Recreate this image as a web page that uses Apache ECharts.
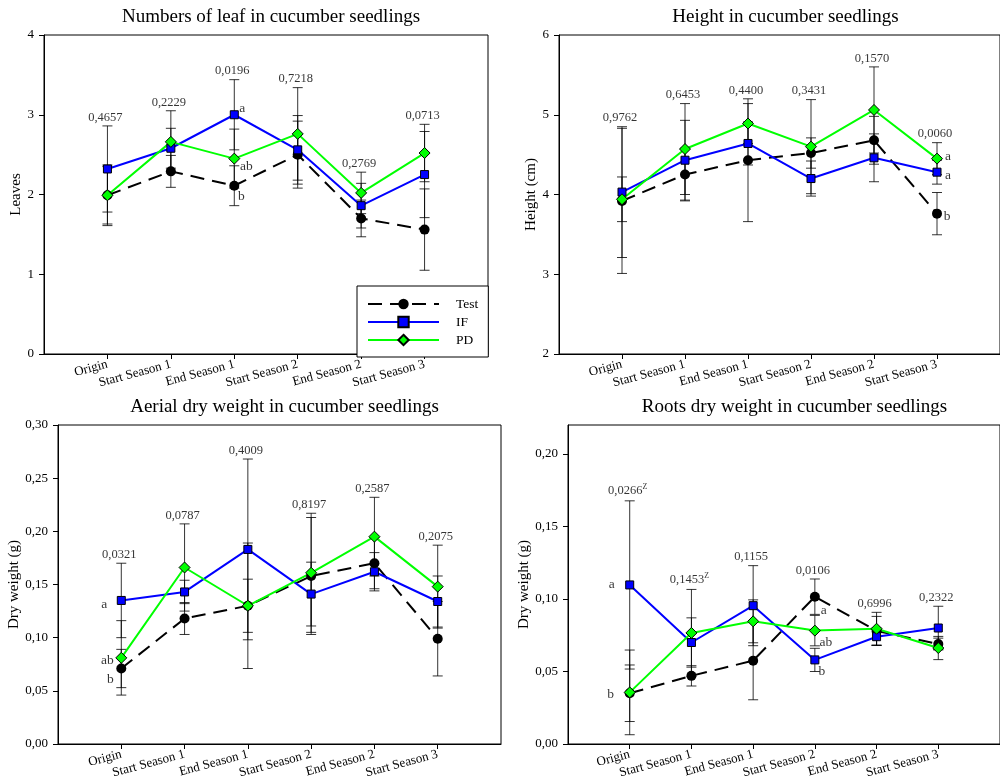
<!DOCTYPE html>
<html>
<head>
<meta charset="utf-8">
<title>Cucumber seedlings</title>
<script src="https://cdn.jsdelivr.net/npm/echarts@6/dist/echarts.min.js"></script>
<style>
  html, body { margin: 0; padding: 0; background: #fff; }
  #chart { width: 1000px; height: 782px; }
</style>
</head>
<body>
<div id="chart"></div>
<script>
// ---- data ----
const categories = ['Origin', 'Start Season 1', 'End Season 1', 'Start Season 2', 'End Season 2', 'Start Season 3'];
const seriesNames = ['Test', 'IF', 'PD'];

// Numbers of leaf (mean, error)
const leafTest = [1.99, 2.29, 2.11, 2.50, 1.70, 1.56];
const leafTestErr = [0.36, 0.20, 0.25, 0.42, 0.23, 0.51];
const leafIF = [2.32, 2.58, 3.00, 2.56, 1.86, 2.25];
const leafIFErr = [0.54, 0.25, 0.44, 0.43, 0.28, 0.54];
const leafPD = [1.99, 2.66, 2.45, 2.76, 2.02, 2.52];
const leafPDErr = [0.38, 0.39, 0.37, 0.58, 0.26, 0.36];
const leafP = ['0,4657', '0,2229', '0,0196', '0,7218', '0,2769', '0,0713'];
const leafLetters = [[2, 'IF', 'a'], [2, 'PD', 'ab'], [2, 'Test', 'b']];

// Height (cm)
const heightTest = [3.92, 4.25, 4.43, 4.52, 4.68, 3.76];
const heightTestErr = [0.91, 0.33, 0.77, 0.19, 0.30, 0.265];
const heightIF = [4.03, 4.43, 4.64, 4.20, 4.46, 4.28];
const heightIFErr = [0.82, 0.50, 0.27, 0.22, 0.30, 0.15];
const heightPD = [3.94, 4.57, 4.89, 4.60, 5.06, 4.45];
const heightPDErr = [0.28, 0.57, 0.25, 0.59, 0.54, 0.20];
const heightP = ['0,9762', '0,6453', '0,4400', '0,3431', '0,1570', '0,0060'];
const heightLetters = [[5, 'PD', 'a'], [5, 'IF', 'a'], [5, 'Test', 'b']];

// Aerial dry weight (g)
const aerialTest = [0.071, 0.118, 0.130, 0.158, 0.170, 0.099];
const aerialTestErr = [0.018, 0.015, 0.025, 0.055, 0.024, 0.035];
const aerialIF = [0.135, 0.143, 0.183, 0.141, 0.162, 0.134];
const aerialIFErr = [0.035, 0.011, 0.085, 0.030, 0.018, 0.024];
const aerialPD = [0.081, 0.166, 0.130, 0.161, 0.195, 0.148];
const aerialPDErr = [0.035, 0.041, 0.059, 0.056, 0.037, 0.039];
const aerialP = ['0,0321', '0,0787', '0,4009', '0,8197', '0,2587', '0,2075'];
const aerialLetters = [[0, 'IF', 'a'], [0, 'PD', 'ab'], [0, 'Test', 'b']];

// Roots dry weight (g)
const rootsTest = [0.035, 0.047, 0.0575, 0.1016, 0.078, 0.069];
const rootsTestErr = [0.0195, 0.007, 0.027, 0.0122, 0.010, 0.004];
const rootsIF = [0.1097, 0.070, 0.0954, 0.058, 0.074, 0.080];
const rootsIFErr = [0.058, 0.017, 0.0276, 0.008, 0.006, 0.015];
const rootsPD = [0.0356, 0.0766, 0.0846, 0.0782, 0.0795, 0.0662];
const rootsPDErr = [0.0292, 0.030, 0.0148, 0.0105, 0.0113, 0.008];
const rootsP = ['0,0266', '0,1453', '0,1155', '0,0106', '0,6996', '0,2322'];
const rootsPSup = ['Z', 'Z', '', '', '', ''];
const rootsLetters = [[0, 'IF', 'a'], [0, 'Test', 'b'], [3, 'Test', 'a'], [3, 'PD', 'ab'], [3, 'IF', 'b']];

const titles = ['Numbers of leaf in cucumber seedlings', 'Height in cucumber seedlings',
  'Aerial dry weight in cucumber seedlings', 'Roots dry weight in cucumber seedlings'];
const yNames = ['Leaves', 'Height (cm)', 'Dry weight (g)', 'Dry weight (g)'];

// ---- layout & style ----
const FONT = 'Liberation Serif';
const grids = [
  { left: 44, top: 35, width: 444, height: 319 },
  { left: 559, top: 35, width: 443, height: 319 },
  { left: 58, top: 425, width: 443, height: 319 },
  { left: 568, top: 425, width: 443, height: 319 }
];
const yScales = [
  { min: 0, max: 4, interval: 1, dec: 0, nameGap: 19 },
  { min: 2, max: 6, interval: 1, dec: 0, nameGap: 18 },
  { min: 0, max: 0.30, interval: 0.05, dec: 2, nameGap: 24 },
  { min: 0, max: 0.22, interval: 0.05, dec: 2, nameGap: 33 }
];
const letterOffsets = [
  { 'IF': [8, -6], 'PD': [12, 8], 'Test': [7, 11] },
  { 'PD': [11, -2], 'IF': [11, 3], 'Test': [10, 3] },
  { 'IF': [-17, 4], 'PD': [-14, 3], 'Test': [-11, 11] },
  { '0IF': [-18, 0], '0Test': [-19, 1], '3Test': [9, 14], '3PD': [11, 12], '3IF': [7, 12] }
];
const lineStyles = {
  Test: { color: '#000', type: [14, 8], symbol: 'circle', size: 10, fill: '#000' },
  IF: { color: '#0000ff', type: 'solid', symbol: 'rect', size: 8, fill: '#0000ff' },
  PD: { color: '#00ff00', type: 'solid', symbol: 'diamond', size: 11, fill: '#00ff00' }
};

const panels = [
  { vals: { Test: leafTest, IF: leafIF, PD: leafPD }, errs: { Test: leafTestErr, IF: leafIFErr, PD: leafPDErr }, p: leafP, sup: null, letters: leafLetters },
  { vals: { Test: heightTest, IF: heightIF, PD: heightPD }, errs: { Test: heightTestErr, IF: heightIFErr, PD: heightPDErr }, p: heightP, sup: null, letters: heightLetters },
  { vals: { Test: aerialTest, IF: aerialIF, PD: aerialPD }, errs: { Test: aerialTestErr, IF: aerialIFErr, PD: aerialPDErr }, p: aerialP, sup: null, letters: aerialLetters },
  { vals: { Test: rootsTest, IF: rootsIF, PD: rootsPD }, errs: { Test: rootsTestErr, IF: rootsIFErr, PD: rootsPDErr }, p: rootsP, sup: rootsPSup, letters: rootsLetters }
];

// category slots with an empty slot on each side
const axisCats = [''].concat(categories, ['']);

function renderErrorBar(params, api) {
  const x = api.value(0);
  const top = api.coord([x, api.value(2)]);
  const bot = api.coord([x, api.value(1)]);
  const w = 5;
  const style = { stroke: 'rgba(0,0,0,0.8)', lineWidth: 1 };
  return {
    type: 'group',
    children: [
      { type: 'line', shape: { x1: top[0], y1: top[1], x2: bot[0], y2: bot[1] }, style: style },
      { type: 'line', shape: { x1: top[0] - w, y1: top[1], x2: top[0] + w, y2: top[1] }, style: style },
      { type: 'line', shape: { x1: bot[0] - w, y1: bot[1], x2: bot[0] + w, y2: bot[1] }, style: style }
    ]
  };
}

const option = {
  animation: false,
  backgroundColor: '#fff',
  textStyle: { fontFamily: FONT, color: '#000' },
  title: titles.map((t, k) => ({
    text: t,
    left: grids[k].left + grids[k].width / 2,
    textAlign: 'center',
    top: grids[k].top - 32,
    textStyle: { fontFamily: FONT, fontSize: 19, fontWeight: 'normal', color: '#000' }
  })),
  legend: {
    data: seriesNames,
    orient: 'vertical',
    left: 357, top: 286,
    padding: [11, 10, 10, 10],
    itemWidth: 71, itemHeight: 13, itemGap: 4,
    borderColor: '#000', borderWidth: 1, backgroundColor: '#fff',
    selectedMode: false,
    textStyle: { fontFamily: FONT, fontSize: 13.5, color: '#000', padding: [0, 0, 0, 12] }
  },
  grid: grids.map(g => Object.assign({ show: true, borderColor: '#000', borderWidth: 1, backgroundColor: 'transparent' }, g)),
  xAxis: grids.map((g, k) => ({
    type: 'category', gridIndex: k, data: axisCats, boundaryGap: false,
    axisLine: { lineStyle: { color: '#000', width: 1 } },
    axisTick: { length: 5, lineStyle: { color: '#000' }, interval: (i, v) => v !== '' },
    axisLabel: { interval: (i, v) => v !== '', rotate: 15, fontSize: 13, margin: 10, color: '#000', fontFamily: FONT },
    splitLine: { show: false }
  })),
  yAxis: yScales.map((s, k) => ({
    type: 'value', gridIndex: k, min: s.min, max: s.max, interval: s.interval,
    name: yNames[k], nameLocation: 'middle', nameGap: s.nameGap,
    nameTextStyle: { fontFamily: FONT, fontSize: 15, color: '#000' },
    axisLine: { show: true, lineStyle: { color: '#000', width: 1 } },
    axisTick: { show: true, length: 5, lineStyle: { color: '#000' } },
    axisLabel: {
      fontSize: 13, margin: 10, color: '#000', fontFamily: FONT, showMaxLabel: k !== 3,
      formatter: v => v.toFixed(s.dec).replace('.', ',')
    },
    splitLine: { show: false }
  })),
  series: []
};

panels.forEach((pn, k) => {
  // error bars
  seriesNames.forEach(name => {
    option.series.push({
      type: 'custom', xAxisIndex: k, yAxisIndex: k, z: 1, silent: true,
      renderItem: renderErrorBar,
      encode: { x: 0, y: [1, 2] },
      data: pn.vals[name].map((v, i) => [i + 1, v - pn.errs[name][i], v + pn.errs[name][i]])
    });
  });
  // mean lines
  seriesNames.forEach(name => {
    const st = lineStyles[name];
    option.series.push({
      type: 'line', name: name, xAxisIndex: k, yAxisIndex: k, z: 3, silent: true,
      data: pn.vals[name].map((v, i) => [i + 1, v]),
      symbol: st.symbol, symbolSize: st.size, showAllSymbol: true,
      lineStyle: { color: st.color, width: 2, type: st.type },
      itemStyle: { color: st.fill, borderColor: '#000', borderWidth: name === 'Test' ? 0 : 1 }
    });
  });
  // p-values above the highest cap
  option.series.push({
    type: 'scatter', xAxisIndex: k, yAxisIndex: k, z: 4, silent: true,
    symbolSize: 0,
    data: pn.p.map((txt, i) => {
      const top = Math.max(...seriesNames.map(n => pn.vals[n][i] + pn.errs[n][i]));
      const sup = pn.sup && pn.sup[i] ? '{s|' + pn.sup[i] + '}' : '';
      return { value: [i + 1, top], label: { formatter: txt + sup } };
    }),
    label: {
      show: true, position: 'top', distance: 2, offset: [-2, 0],
      fontFamily: FONT, fontSize: 12.5, color: '#000',
      rich: { s: { fontFamily: FONT, fontSize: 8, color: '#000', verticalAlign: 'top', padding: [0, 0, 8, 0] } }
    }
  });
  // significance letters
  option.series.push({
    type: 'scatter', xAxisIndex: k, yAxisIndex: k, z: 4, silent: true,
    symbolSize: 0,
    data: pn.letters.map(([ci, name, txt]) => {
      const off = letterOffsets[k][name] || letterOffsets[k][ci + name];
      return {
        value: [ci + 1, pn.vals[name][ci]],
        label: { formatter: txt, offset: off }
      };
    }),
    label: {
      show: true, position: 'inside', align: 'center', verticalAlign: 'middle',
      fontFamily: FONT, fontSize: 13.5, color: '#000'
    }
  });
});

const chart = echarts.init(document.getElementById('chart'), null, { renderer: 'canvas' });
chart.setOption(option);
</script>
</body>
</html>
